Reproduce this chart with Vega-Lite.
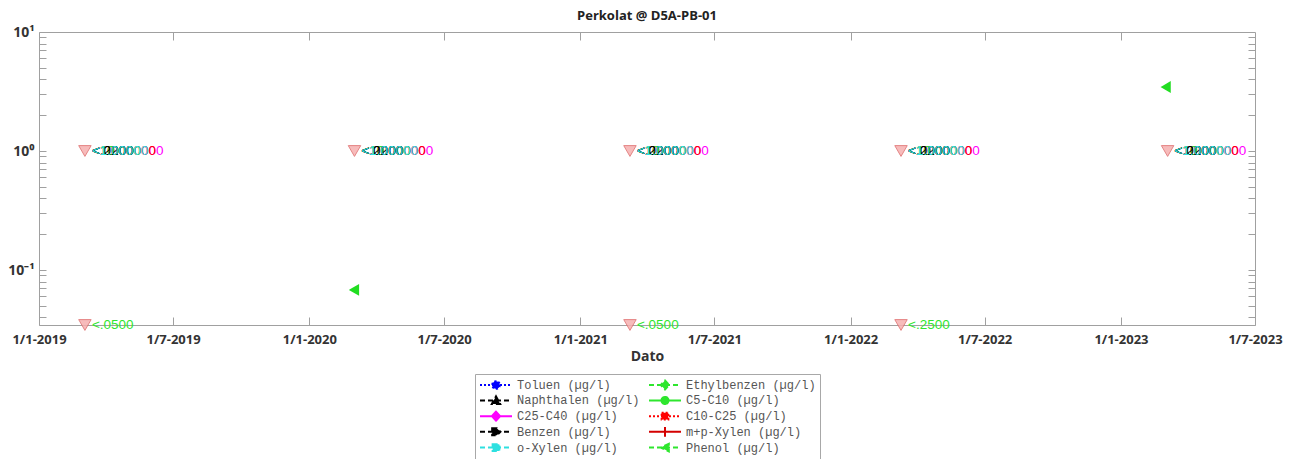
{
  "$schema": "https://vega.github.io/schema/vega-lite/v6.json",
  "width": 1216,
  "height": 293,
  "padding": {"left": 7, "top": 10, "right": 5, "bottom": 0},
  "background": "white",
  "title": {"text": "Perkolat @ D5A-PB-01", "font": "Open Sans", "fontSize": 13, "fontWeight": "bold", "color": "#222", "offset": 2},
  "config": {
    "view": {"stroke": "#a0a0a0", "strokeWidth": 1},
    "axis": {"labelFont": "Open Sans", "labelFontSize": 13, "labelFontWeight": "bold", "labelColor": "#333", "titleFont": "Open Sans", "titleFontSize": 14, "titleFontWeight": "bold", "titleColor": "#333", "domain": false, "grid": false, "tickColor": "#a0a0a0"},
    "legend": {
      "orient": "none", "legendX": 436, "legendY": 342, "columns": 2, "direction": "horizontal",
      "symbolSize": 1024, "symbolStrokeWidth": 2, "symbolOpacity": 1, "clipHeight": 13.5, "rowPadding": 1.7, "columnPadding": 8,
      "labelFont": "Liberation Mono", "labelFontSize": 12, "labelColor": "#555", "labelOffset": 4, "labelLimit": 200,
      "strokeColor": "#a8a8a8", "padding": 4, "fillColor": "white", "titleFontSize": 0, "titlePadding": 0
    }
  },
  "datasets": {
    "limits": [
      {"date": "2019-03-04", "value": 1},
      {"date": "2020-03-02", "value": 1},
      {"date": "2021-03-09", "value": 1},
      {"date": "2022-03-10", "value": 1},
      {"date": "2023-03-05", "value": 1},
      {"date": "2019-03-04", "value": 0.0345},
      {"date": "2021-03-09", "value": 0.0345},
      {"date": "2022-03-10", "value": 0.0345}
    ],
    "labels": [
      {"date": "2019-03-04", "series": "C25-C40 (µg/l)", "value": 1, "label": "<10.000000"},
      {"date": "2019-03-04", "series": "C10-C25 (µg/l)", "value": 1, "label": "<10.00000"},
      {"date": "2019-03-04", "series": "m+p-Xylen (µg/l)", "value": 1, "label": "<1.0000"},
      {"date": "2019-03-04", "series": "Toluen (µg/l)", "value": 1, "label": "<1.000"},
      {"date": "2019-03-04", "series": "Ethylbenzen (µg/l)", "value": 1, "label": "<1.000"},
      {"date": "2019-03-04", "series": "C5-C10 (µg/l)", "value": 1, "label": "<10.000"},
      {"date": "2019-03-04", "series": "Naphthalen (µg/l)", "value": 1, "label": "<.0200"},
      {"date": "2019-03-04", "series": "Benzen (µg/l)", "value": 1, "label": "<.2000"},
      {"date": "2019-03-04", "series": "o-Xylen (µg/l)", "value": 1, "label": "<1.00000"},
      {"date": "2020-03-02", "series": "C25-C40 (µg/l)", "value": 1, "label": "<10.000000"},
      {"date": "2020-03-02", "series": "C10-C25 (µg/l)", "value": 1, "label": "<10.00000"},
      {"date": "2020-03-02", "series": "m+p-Xylen (µg/l)", "value": 1, "label": "<1.0000"},
      {"date": "2020-03-02", "series": "Toluen (µg/l)", "value": 1, "label": "<1.000"},
      {"date": "2020-03-02", "series": "Ethylbenzen (µg/l)", "value": 1, "label": "<1.000"},
      {"date": "2020-03-02", "series": "C5-C10 (µg/l)", "value": 1, "label": "<10.000"},
      {"date": "2020-03-02", "series": "Naphthalen (µg/l)", "value": 1, "label": "<.0200"},
      {"date": "2020-03-02", "series": "Benzen (µg/l)", "value": 1, "label": "<.2000"},
      {"date": "2020-03-02", "series": "o-Xylen (µg/l)", "value": 1, "label": "<1.00000"},
      {"date": "2021-03-09", "series": "C25-C40 (µg/l)", "value": 1, "label": "<10.000000"},
      {"date": "2021-03-09", "series": "C10-C25 (µg/l)", "value": 1, "label": "<10.00000"},
      {"date": "2021-03-09", "series": "m+p-Xylen (µg/l)", "value": 1, "label": "<1.0000"},
      {"date": "2021-03-09", "series": "Toluen (µg/l)", "value": 1, "label": "<1.000"},
      {"date": "2021-03-09", "series": "Ethylbenzen (µg/l)", "value": 1, "label": "<1.000"},
      {"date": "2021-03-09", "series": "C5-C10 (µg/l)", "value": 1, "label": "<10.000"},
      {"date": "2021-03-09", "series": "Naphthalen (µg/l)", "value": 1, "label": "<.0200"},
      {"date": "2021-03-09", "series": "Benzen (µg/l)", "value": 1, "label": "<.2000"},
      {"date": "2021-03-09", "series": "o-Xylen (µg/l)", "value": 1, "label": "<1.00000"},
      {"date": "2022-03-10", "series": "C25-C40 (µg/l)", "value": 1, "label": "<10.000000"},
      {"date": "2022-03-10", "series": "C10-C25 (µg/l)", "value": 1, "label": "<10.00000"},
      {"date": "2022-03-10", "series": "m+p-Xylen (µg/l)", "value": 1, "label": "<1.0000"},
      {"date": "2022-03-10", "series": "Toluen (µg/l)", "value": 1, "label": "<1.000"},
      {"date": "2022-03-10", "series": "Ethylbenzen (µg/l)", "value": 1, "label": "<1.000"},
      {"date": "2022-03-10", "series": "C5-C10 (µg/l)", "value": 1, "label": "<10.000"},
      {"date": "2022-03-10", "series": "Naphthalen (µg/l)", "value": 1, "label": "<.0200"},
      {"date": "2022-03-10", "series": "Benzen (µg/l)", "value": 1, "label": "<.2000"},
      {"date": "2022-03-10", "series": "o-Xylen (µg/l)", "value": 1, "label": "<1.00000"},
      {"date": "2023-03-05", "series": "C25-C40 (µg/l)", "value": 1, "label": "<10.000000"},
      {"date": "2023-03-05", "series": "C10-C25 (µg/l)", "value": 1, "label": "<10.00000"},
      {"date": "2023-03-05", "series": "m+p-Xylen (µg/l)", "value": 1, "label": "<1.0000"},
      {"date": "2023-03-05", "series": "Toluen (µg/l)", "value": 1, "label": "<1.000"},
      {"date": "2023-03-05", "series": "Ethylbenzen (µg/l)", "value": 1, "label": "<1.000"},
      {"date": "2023-03-05", "series": "C5-C10 (µg/l)", "value": 1, "label": "<10.000"},
      {"date": "2023-03-05", "series": "Naphthalen (µg/l)", "value": 1, "label": "<.0200"},
      {"date": "2023-03-05", "series": "Benzen (µg/l)", "value": 1, "label": "<.2000"},
      {"date": "2023-03-05", "series": "o-Xylen (µg/l)", "value": 1, "label": "<1.00000"},
      {"date": "2019-03-04", "series": "Phenol (µg/l)", "value": 0.0345, "label": "<.0500"},
      {"date": "2021-03-09", "series": "Phenol (µg/l)", "value": 0.0345, "label": "<.0500"},
      {"date": "2022-03-10", "series": "Phenol (µg/l)", "value": 0.0345, "label": "<.2500"}
    ],
    "phenol": [
      {"date": "2020-03-02", "series": "Phenol (µg/l)", "value": 0.068},
      {"date": "2023-03-03", "series": "Phenol (µg/l)", "value": 3.45}
    ]
  },
  "resolve": {"axis": {"x": "independent", "y": "independent"}},
  "layer": [
    {
      "data": {"name": "limits"},
      "mark": {"type": "point", "shape": "triangle-down", "filled": true, "fill": "#f6b0b0", "stroke": "#e07070", "strokeWidth": 1, "size": 155, "opacity": 0.85},
      "encoding": {
        "x": {
          "field": "date", "type": "temporal",
          "scale": {"type": "utc", "domain": [{"year": 2019, "month": 1, "date": 1, "utc": true}, {"year": 2023, "month": 7, "date": 1, "utc": true}]},
          "axis": {
            "orient": "bottom", "title": "Dato", "titlePadding": 3,
            "values": [
              {"year": 2019, "month": 1, "date": 1, "utc": true}, {"year": 2019, "month": 7, "date": 1, "utc": true},
              {"year": 2020, "month": 1, "date": 1, "utc": true}, {"year": 2020, "month": 7, "date": 1, "utc": true},
              {"year": 2021, "month": 1, "date": 1, "utc": true}, {"year": 2021, "month": 7, "date": 1, "utc": true},
              {"year": 2022, "month": 1, "date": 1, "utc": true}, {"year": 2022, "month": 7, "date": 1, "utc": true},
              {"year": 2023, "month": 1, "date": 1, "utc": true}, {"year": 2023, "month": 7, "date": 1, "utc": true}
            ],
            "labelExpr": "utcFormat(datum.value, '%-d/%-m-%Y')",
            "tickSize": -8, "labelPadding": 16, "labelOverlap": false, "labelFlush": false
          }
        },
        "y": {
          "field": "value", "type": "quantitative",
          "scale": {"type": "log", "domain": [0.0345, 10], "nice": false},
          "axis": {
            "orient": "left", "title": null,
            "values": [0.04, 0.05, 0.06, 0.07, 0.08, 0.09, 0.1, 0.2, 0.3, 0.4, 0.5, 0.6, 0.7, 0.8, 0.9, 1, 2, 3, 4, 5, 6, 7, 8, 9, 10],
            "labelExpr": "datum.value == 10 ? '10¹' : datum.value == 1 ? '10⁰' : datum.value == 0.1 ? '10⁻¹' : ''",
            "tickSize": -7, "labelPadding": 12, "labelOverlap": false, "labelFontSize": 14
          }
        }
      }
    },
    {
      "data": {"name": "labels"},
      "mark": {"type": "text", "align": "left", "baseline": "middle", "dx": 7, "font": "Liberation Sans", "fontSize": 13.5},
      "encoding": {
        "x": {"field": "date", "type": "temporal", "axis": {"orient": "top", "title": null, "labels": false, "tickSize": -8,
          "values": [
              {"year": 2019, "month": 7, "date": 1, "utc": true},
              {"year": 2020, "month": 1, "date": 1, "utc": true}, {"year": 2020, "month": 7, "date": 1, "utc": true},
              {"year": 2021, "month": 1, "date": 1, "utc": true}, {"year": 2021, "month": 7, "date": 1, "utc": true},
              {"year": 2022, "month": 1, "date": 1, "utc": true}, {"year": 2022, "month": 7, "date": 1, "utc": true},
              {"year": 2023, "month": 1, "date": 1, "utc": true}
          ]}},
        "y": {"field": "value", "type": "quantitative", "axis": {"orient": "right", "title": null, "labels": false, "tickSize": -7,
          "values": [0.04, 0.05, 0.06, 0.07, 0.08, 0.09, 0.1, 0.2, 0.3, 0.4, 0.5, 0.6, 0.7, 0.8, 0.9, 1, 2, 3, 4, 5, 6, 7, 8, 9]}},
        "text": {"field": "label"},
        "fill": {
          "field": "series", "type": "nominal", "title": null,
          "scale": {
            "domain": ["Toluen (µg/l)", "Ethylbenzen (µg/l)", "Naphthalen (µg/l)", "C5-C10 (µg/l)", "C25-C40 (µg/l)", "C10-C25 (µg/l)", "Benzen (µg/l)", "m+p-Xylen (µg/l)", "o-Xylen (µg/l)", "Phenol (µg/l)"],
            "range": ["#0000ff", "#2ee62e", "#000000", "#2ee62e", "#ff00ff", "#ff0000", "#000000", "#d40000", "#2ee0e0", "#2ee62e"]
          },
          "legend": {
            "encode": {"symbols": {"update": {"strokeDash": {"signal": "indexof(['Toluen (µg/l)','C10-C25 (µg/l)'], datum.value) >= 0 ? [2,2] : indexof(['C25-C40 (µg/l)','C5-C10 (µg/l)','m+p-Xylen (µg/l)'], datum.value) >= 0 ? [1,0] : [5,3]"}}}}
          }
        }
      }
    },
    {
      "data": {"name": "labels"},
      "mark": {"type": "point", "filled": true, "opacity": 0, "strokeWidth": 2},
      "encoding": {
        "x": {"field": "date", "type": "temporal", "axis": null},
        "y": {"field": "value", "type": "quantitative", "axis": null},
        "shape": {
          "field": "series", "type": "nominal", "title": null,
          "scale": {
            "domain": ["Toluen (µg/l)", "Ethylbenzen (µg/l)", "Naphthalen (µg/l)", "C5-C10 (µg/l)", "C25-C40 (µg/l)", "C10-C25 (µg/l)", "Benzen (µg/l)", "m+p-Xylen (µg/l)", "o-Xylen (µg/l)", "Phenol (µg/l)"],
            "range": [
              "M-1,0H1M0.24,0A0.24,0.24,0,1,1,-0.24,0A0.24,0.24,0,1,1,0.24,0Z",
              "M-1,0H1M0,-0.28L0.26,0L0,0.28L-0.26,0Z",
              "M-1,0H1M0,-0.26L0.26,0.22L-0.26,0.22Z",
              "M-1,0H1M0.22,0A0.22,0.22,0,1,1,-0.22,0A0.22,0.22,0,1,1,0.22,0Z",
              "M-1,0H1M0,-0.28L0.26,0L0,0.28L-0.26,0Z",
              "M-1,0H1M-0.21,-0.21H0.21V0.21H-0.21Z",
              "M-1,0H1M-0.24,-0.22H0.05L0.28,0L0.05,0.22H-0.24Z",
              "M-1,0H1M0,-0.3V0.3",
              "M-1,0H1M-0.21,-0.21H0.21V0.21H-0.21Z",
              "M-1,0H1M0.24,-0.24L-0.28,0L0.24,0.24Z"
            ]
          },
          "legend": {
            "encode": {"symbols": {"update": {"strokeDash": {"signal": "indexof(['Toluen (µg/l)','C10-C25 (µg/l)'], datum.value) >= 0 ? [2,2] : indexof(['C25-C40 (µg/l)','C5-C10 (µg/l)','m+p-Xylen (µg/l)'], datum.value) >= 0 ? [1,0] : [5,3]"}}}}
          }
        },
        "fill": {"field": "series", "type": "nominal", "title": null,
          "legend": {
            "encode": {"symbols": {"update": {"strokeDash": {"signal": "indexof(['Toluen (µg/l)','C10-C25 (µg/l)'], datum.value) >= 0 ? [2,2] : indexof(['C25-C40 (µg/l)','C5-C10 (µg/l)','m+p-Xylen (µg/l)'], datum.value) >= 0 ? [1,0] : [5,3]"}}}}
          }},
        "stroke": {
          "field": "series", "type": "nominal", "title": null,
          "scale": {
            "domain": ["Toluen (µg/l)", "Ethylbenzen (µg/l)", "Naphthalen (µg/l)", "C5-C10 (µg/l)", "C25-C40 (µg/l)", "C10-C25 (µg/l)", "Benzen (µg/l)", "m+p-Xylen (µg/l)", "o-Xylen (µg/l)", "Phenol (µg/l)"],
            "range": ["#0000ff", "#2ee62e", "#000000", "#2ee62e", "#ff00ff", "#ff0000", "#000000", "#d40000", "#2ee0e0", "#2ee62e"]
          },
          "legend": {
            "encode": {"symbols": {"update": {"strokeDash": {"signal": "indexof(['Toluen (µg/l)','C10-C25 (µg/l)'], datum.value) >= 0 ? [2,2] : indexof(['C25-C40 (µg/l)','C5-C10 (µg/l)','m+p-Xylen (µg/l)'], datum.value) >= 0 ? [1,0] : [5,3]"}}}}
          }
        }
      }
    },
    {
      "data": {"name": "phenol"},
      "mark": {"type": "point", "shape": "triangle-left", "filled": true, "fill": "#22dd22", "stroke": "#22dd22", "size": 70, "opacity": 1},
      "encoding": {
        "x": {"field": "date", "type": "temporal", "axis": null},
        "y": {"field": "value", "type": "quantitative", "axis": null}
      }
    }
  ]
}
